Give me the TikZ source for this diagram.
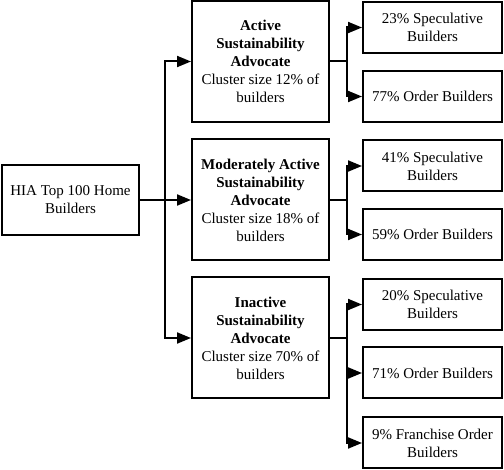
\documentclass[tikz,border=0pt]{standalone}
\usepackage{fontspec}
\setmainfont{Liberation Serif}
\usetikzlibrary{arrows.meta}
\begin{document}
\begin{tikzpicture}[x=1pt,y=-1pt,
  box/.style={draw,line width=2pt,align=center,inner sep=2pt,
    font=\fontsize{15pt}{18pt}\selectfont},
  rootbox/.style={box,minimum width=137pt,minimum height=70pt},
  midbox/.style={box,minimum width=137pt,minimum height=121pt},
  leafbox/.style={box,minimum width=139pt,minimum height=51pt},
  conn/.style={line width=2pt},
  arr/.style={conn,-{Triangle[length=14pt,width=11pt]}}]
\useasboundingbox (0,0) rectangle (504,470);
\node[rootbox] (root) at (70.5,200) {HIA Top 100 Home\\Builders};
\node[midbox] (m1) at (260.5,61.5) {\textbf{Active}\\\textbf{Sustainability}\\\textbf{Advocate}\\Cluster size 12\% of\\builders};
\node[midbox] (m2) at (260.5,200) {\textbf{Moderately Active}\\\textbf{Sustainability}\\\textbf{Advocate}\\Cluster size 18\% of\\builders};
\node[midbox] (m3) at (260.5,338) {\textbf{Inactive}\\\textbf{Sustainability}\\\textbf{Advocate}\\Cluster size 70\% of\\builders};
\node[leafbox] (r1) at (432.5,27.5) {23\% Speculative\\Builders};
\node[leafbox] (r2) at (432.5,96.5) {77\% Order Builders};
\node[leafbox] (r3) at (432.5,166) {41\% Speculative\\Builders};
\node[leafbox] (r4) at (432.5,234.5) {59\% Order Builders};
\node[leafbox] (r5) at (432.5,304.5) {20\% Speculative\\Builders};
\node[leafbox] (r6) at (432.5,373) {71\% Order Builders};
\node[leafbox] (r7) at (432.5,443) {9\% Franchise Order\\Builders};
% root to middle
\coordinate (b0) at (165,200);
\draw[arr] (root.east) -- (m2.west);
\draw[arr] (b0) |- (m1.west);
\draw[arr] (b0) |- (m3.west);
% middle to leaves
\draw[conn] (m1.east) -- ++(17,0) coordinate (c1);
\draw[arr] (c1) |- (r1.west);
\draw[arr] (c1) |- (r2.west);
\draw[conn] (m2.east) -- ++(17,0) coordinate (c2);
\draw[arr] (c2) |- (r3.west);
\draw[arr] (c2) |- (r4.west);
\draw[conn] (m3.east) -- ++(17,0) coordinate (c3);
\draw[arr] (c3) |- (r5.west);
\draw[arr] (c3) |- (r6.west);
\draw[arr] (c3) |- (r7.west);
\end{tikzpicture}
\end{document}
